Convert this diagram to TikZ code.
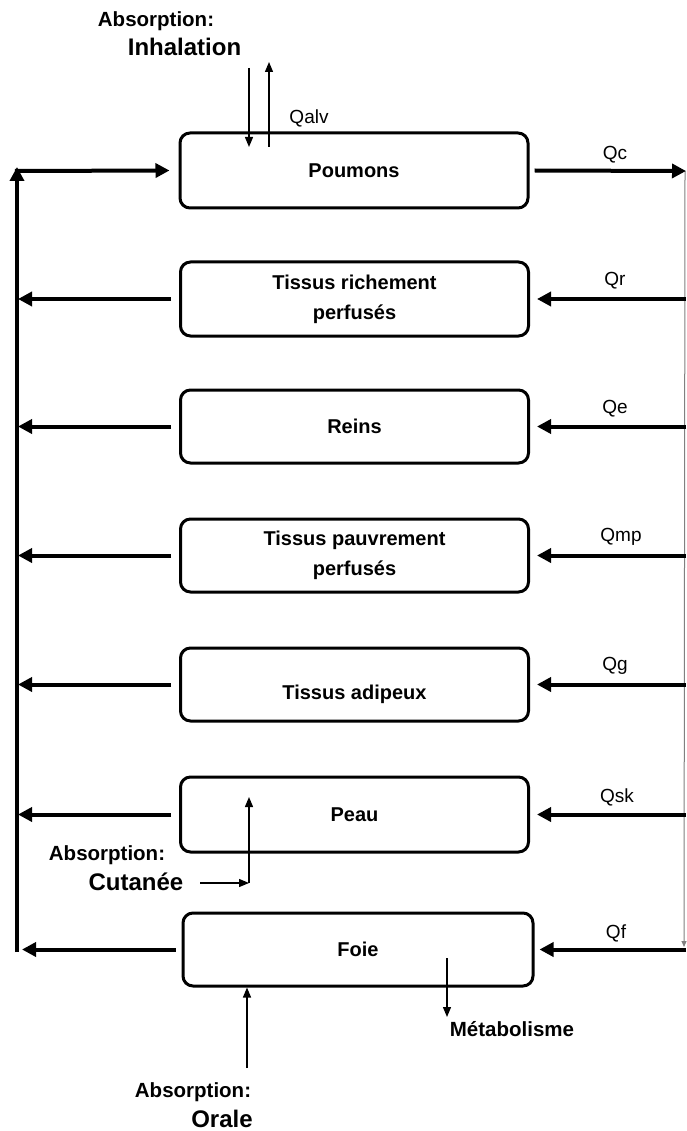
\documentclass[tikz,border=0pt]{standalone}
\usepackage{fontspec}
\setmainfont{Liberation Sans}
\usetikzlibrary{arrows.meta}
\begin{document}
\begin{tikzpicture}[x=1pt,y=-1pt,
  organ/.style={draw, line width=3pt, rounded corners=10pt, minimum width=348pt,
    minimum height=74pt, inner sep=0pt, align=center,
    font=\fontsize{20}{30}\selectfont\bfseries},
  bigflow/.style={line width=4pt, -{Triangle[length=14pt,width=14pt]}},
  fineflow/.style={line width=1.3pt, -{Triangle[length=10pt,width=8pt]}},
  qlab/.style={font=\fontsize{19}{22}\selectfont, inner sep=0pt},
  abslab/.style={font=\fontsize{20.5}{24}\selectfont\bfseries, inner sep=0pt},
  routelab/.style={font=\fontsize{24}{28}\selectfont\bfseries, inner sep=0pt}]
\useasboundingbox (0,0) rectangle (686,1131);

% organ boxes
\node[organ, minimum height=75pt] (poumons) at (354,170.5) {Poumons};
\node[organ] (tr) at (354.5,299) {Tissus richement\\perfusés};
\node[organ, minimum height=73pt] (reins) at (354.5,426.5) {Reins};
\node[organ, minimum height=73pt] (tp) at (354.5,555.5) {Tissus pauvrement\\perfusés};
\node[organ, minimum height=73pt] (adip) at (354.5,684.5) {\raisebox{-15pt}[0pt][0pt]{Tissus adipeux}};
\node[organ, minimum height=75pt] (peau) at (354.5,814.5) {Peau};
\node[organ, minimum width=350pt, minimum height=73pt] (foie) at (358,949.5) {Foie};

% left (venous) bus
\coordinate (busbot) at (17,952);
\coordinate (bustop) at (17,167);
\coordinate (buscorner) at (15,171);
\draw[bigflow] (busbot) -- (bustop);
\draw[bigflow] (buscorner) -- ([xshift=-9pt]poumons.west);

\coordinate (Ltr) at (18,299);
\coordinate (Lreins) at (18,426.5);
\coordinate (Ltp) at (18,555.5);
\coordinate (Ladip) at (18,684.5);
\coordinate (Lpeau) at (18,814.5);
\coordinate (Lfoie) at (22,949.5);
\draw[bigflow] ([xshift=-8pt]tr.west) -- (Ltr);
\draw[bigflow] ([xshift=-8pt]reins.west) -- (Lreins);
\draw[bigflow] ([xshift=-8pt]tp.west) -- (Ltp);
\draw[bigflow] ([xshift=-8pt]adip.west) -- (Ladip);
\draw[bigflow] ([xshift=-8pt]peau.west) -- (Lpeau);
\draw[bigflow] ([xshift=-6pt]foie.west) -- (Lfoie);

% right (arterial) bus
\coordinate (Rc) at (686,171);
\coordinate (Rtop) at (685,171);
\coordinate (Rbot) at (684,947);
\draw[gray, line width=1pt, -{Triangle[length=6pt,width=5pt]}] (Rtop) -- (Rbot);
\draw[bigflow] ([xshift=5pt]poumons.east) -- (Rc);

\coordinate (Rtr) at (686,299);
\coordinate (Rreins) at (686,426.5);
\coordinate (Rtp) at (686,555.5);
\coordinate (Radip) at (686,684.5);
\coordinate (Rpeau) at (686,814.5);
\coordinate (Rfoie) at (686,949.5);
\draw[bigflow] (Rtr) -- ([xshift=7pt]tr.east);
\draw[bigflow] (Rreins) -- ([xshift=7pt]reins.east);
\draw[bigflow] (Rtp) -- ([xshift=7pt]tp.east);
\draw[bigflow] (Radip) -- ([xshift=7pt]adip.east);
\draw[bigflow] (Rpeau) -- ([xshift=7pt]peau.east);
\draw[bigflow] (Rfoie) -- ([xshift=5pt]foie.east);

% flow labels
\node[qlab] (qc) at (615,155) {Qc};
\node[qlab] (qr) at (615,281) {Qr};
\node[qlab] (qe) at (615,409) {Qe};
\node[qlab] (qmp) at (621,537) {Qmp};
\node[qlab] (qg) at (615,666) {Qg};
\node[qlab] (qsk) at (617,797) {Qsk};
\node[qlab] (qf) at (616,933) {Qf};
\node[qlab] (qalv) at (309,118) {Qalv};

% inhalation
\node[abslab] (absinh) at (156,21) {Absorption:};
\node[routelab] (inh) at (184.5,47) {Inhalation};
\coordinate (inA) at (249,68);
\coordinate (inB) at (249,147);
\coordinate (outA) at (269,147);
\coordinate (outB) at (269,62);
\draw[fineflow] (inA) -- (inB);
\draw[fineflow] (outA) -- (outB);

% cutaneous
\node[abslab] (abscut) at (107,855) {Absorption:};
\node[routelab] (cut) at (136,882) {Cutanée};
\coordinate (cutA) at (200,883);
\coordinate (cutB) at (249,883);
\coordinate (cutC) at (249,797);
\draw[fineflow] (cutA) -- (cutB);
\draw[fineflow] (cutB) -- (cutC);

% oral
\node[abslab] (absor) at (193,1092) {Absorption:};
\node[routelab] (orale) at (222,1119) {Orale};
\coordinate (orA) at (247,1068);
\draw[fineflow] (orA) -- ([xshift=-111pt]foie.south);

% metabolism
\node[abslab] (metab) at (512,1029) {Métabolisme};
\coordinate (meA) at (447,958);
\coordinate (meB) at (447,1017);
\draw[fineflow] (meA) -- (meB);
\end{tikzpicture}
\end{document}
